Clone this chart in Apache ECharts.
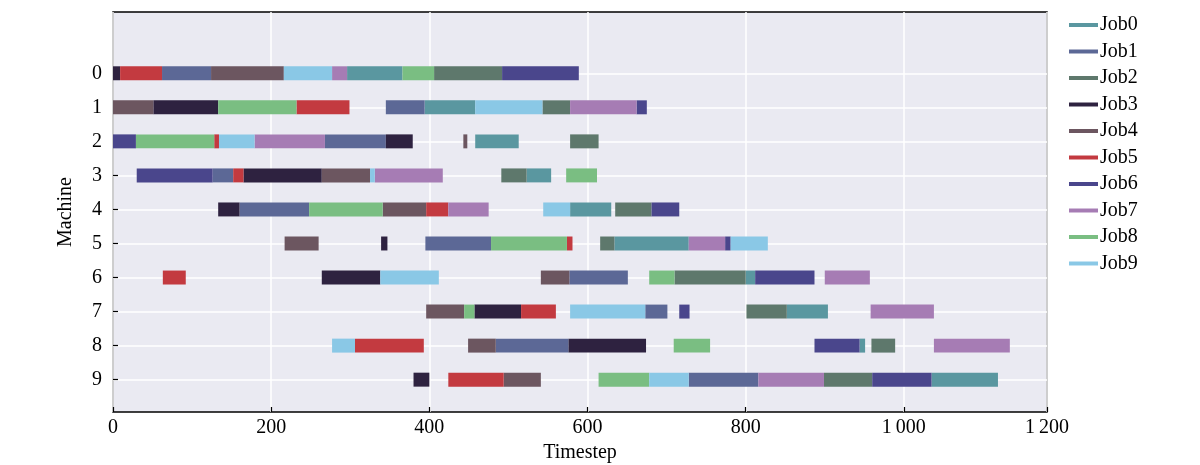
<!DOCTYPE html>
<html>
<head>
<meta charset="utf-8">
<script src="https://cdn.jsdelivr.net/npm/echarts@6/dist/echarts.min.js"></script>
<style>
  html, body { margin: 0; padding: 0; background: #fff; }
  #main { width: 1200px; height: 465px; }
</style>
</head>
<body>
<div id="main"></div>
<script>
// each entry: [machine, start, end]
var job0 = [[0, 296, 366], [1, 394, 458], [2, 458, 513], [3, 523, 554], [4, 578, 630], [5, 634, 728], [6, 800, 812], [7, 852, 904], [8, 944, 951], [9, 1035, 1119]];
var job1 = [[0, 62, 124], [1, 345, 394], [2, 268, 345], [3, 126, 152], [4, 160, 248], [5, 395, 478], [6, 577, 651], [7, 673, 701], [8, 484, 576], [9, 728, 816]];
var job2 = [[0, 406, 492], [1, 543, 578], [2, 578, 614], [3, 491, 523], [4, 635, 681], [5, 616, 634], [6, 710, 800], [7, 801, 852], [8, 959, 989], [9, 899, 960]];
var job3 = [[0, 0, 9], [1, 51, 133], [2, 345, 379], [3, 165, 264], [4, 133, 160], [5, 339, 347], [6, 264, 338], [7, 457, 516], [8, 576, 674], [9, 380, 400]];
var job4 = [[0, 124, 216], [1, 0, 51], [2, 443, 448], [3, 264, 325], [4, 341, 396], [5, 217, 260], [6, 541, 577], [7, 396, 444], [8, 449, 484], [9, 494, 541]];
var job5 = [[0, 9, 62], [1, 232, 299], [2, 128, 134], [3, 152, 165], [4, 396, 424], [5, 574, 581], [6, 63, 92], [7, 516, 560], [8, 306, 393], [9, 424, 494]];
var job6 = [[0, 492, 589], [1, 662, 675], [2, 0, 29], [3, 30, 126], [4, 681, 716], [5, 774, 781], [6, 812, 887], [7, 716, 729], [8, 887, 944], [9, 960, 1035]];
var job7 = [[0, 277, 296], [1, 578, 662], [2, 179, 268], [3, 331, 417], [4, 424, 475], [5, 728, 774], [6, 900, 957], [7, 958, 1038], [8, 1038, 1134], [9, 816, 899]];
var job8 = [[0, 366, 406], [1, 133, 232], [2, 29, 128], [3, 573, 612], [4, 248, 341], [5, 478, 574], [6, 678, 710], [7, 444, 457], [8, 709, 755], [9, 614, 678]];
var job9 = [[0, 216, 277], [1, 458, 543], [2, 134, 179], [3, 325, 331], [4, 544, 578], [5, 781, 828], [6, 338, 412], [7, 578, 673], [8, 277, 306], [9, 678, 728]];

var jobNames = ["Job0", "Job1", "Job2", "Job3", "Job4", "Job5", "Job6", "Job7", "Job8", "Job9"];
var jobColors = ["#5a97a0", "#5c6896", "#5e786c", "#2e2240", "#6c5660", "#c33a40", "#4a468c", "#a67cb4", "#7abe82", "#8ac8e6"];
var machines = [0, 1, 2, 3, 4, 5, 6, 7, 8, 9];
var xTicks = [0, 200, 400, 600, 800, 1000, 1181];
var xTickLabels = ["0", "200", "400", "600", "800", "1\u2009000", "1\u2009200"];

var jobs = [job0, job1, job2, job3, job4, job5, job6, job7, job8, job9];
var barHeight = 0.41;

function renderBar(params, api) {
  var m = api.value(0);
  var p0 = api.coord([api.value(1), m]);
  var p1 = api.coord([api.value(2), m]);
  var h = api.size([0, barHeight])[1];
  return {
    type: "rect",
    shape: { x: p0[0], y: p0[1] - h / 2, width: p1[0] - p0[0], height: h },
    style: { fill: api.visual("color") },
  };
}

var serif = "Liberation Serif";
var chart = echarts.init(document.getElementById("main"));

var option = {
  backgroundColor: "#fff",
  animation: false,
  textStyle: { fontFamily: serif },
  grid: {
    left: 113,
    right: 153,
    top: 12,
    bottom: 53,
    outerBoundsMode: "none",
    containLabel: false,
    show: true,
    backgroundColor: "#eaeaf2",
    borderColor: "#000",
    borderWidth: 1.5,
  },
  legend: {
    orient: "vertical",
    left: 1069,
    top: 15,
    padding: 0,
    icon: "rect",
    itemWidth: 29,
    itemHeight: 4,
    itemGap: 6.5,
    textStyle: { fontFamily: serif, fontSize: 20, color: "#000", lineHeight: 20, padding: [0, 0, 0, -3] },
    data: jobNames,
  },
  xAxis: {
    type: "value",
    min: 0,
    max: 1181,
    name: "Timestep",
    nameLocation: "middle",
    nameGap: 31,
    nameTextStyle: { fontFamily: serif, fontSize: 20, color: "#000" },
    axisLine: { show: false, onZero: false },
    axisTick: { show: true, inside: true, length: 5, customValues: xTicks, lineStyle: { color: "#000", width: 1.2 } },
    axisLabel: {
      customValues: xTicks,
      fontFamily: serif,
      fontSize: 20,
      color: "#000",
      margin: 6,
      formatter: function (v) {
        return xTickLabels[xTicks.indexOf(v)];
      },
    },
    splitLine: { show: true, lineStyle: { color: "#fff", width: 1.5 } },
  },
  yAxis: {
    type: "value",
    inverse: true,
    min: -1.8,
    max: 9.95,
    name: "Machine",
    nameLocation: "middle",
    nameRotate: 90,
    nameGap: 37,
    nameTextStyle: { fontFamily: serif, fontSize: 20, color: "#000" },
    axisLine: { show: false, onZero: false },
    axisTick: { show: true, inside: true, length: 5, customValues: machines, lineStyle: { color: "#000", width: 1.2 } },
    axisLabel: { customValues: machines, fontFamily: serif, fontSize: 20, color: "#000", margin: 11 },
    splitLine: { show: true, lineStyle: { color: "#fff", width: 1.5 } },
  },
  series: jobs.map(function (d, i) {
    return {
      type: "custom",
      name: jobNames[i],
      color: jobColors[i],
      renderItem: renderBar,
      encode: { x: [1, 2], y: 0 },
      data: d,
    };
  }),
};

chart.setOption(option);
window.onresize = chart.resize;
</script>
</body>
</html>
